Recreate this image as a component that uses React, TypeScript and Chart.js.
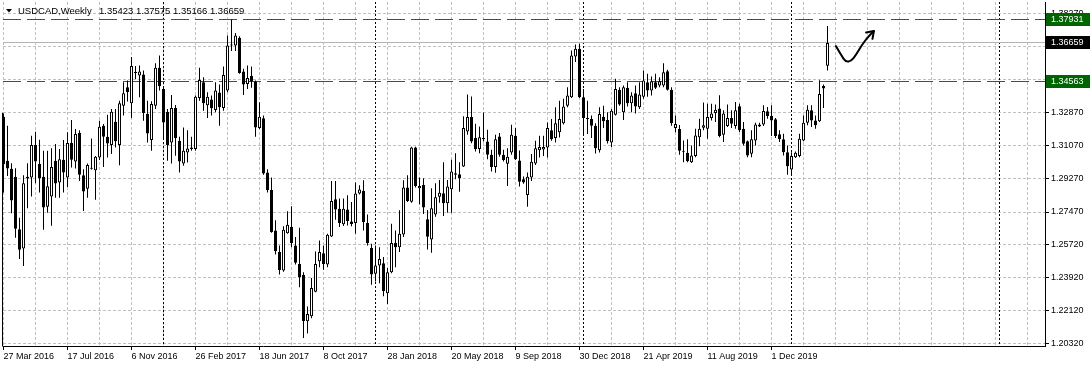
import React, { useEffect, useRef } from 'react';
import { Chart, registerables } from 'chart.js';

Chart.register(...registerables);

const SYMBOL = 'USDCAD,Weekly';
const FIRST_WEEK = '2016-03-27';
const TICK_LABELS = ['27 Mar 2016', '17 Jul 2016', '6 Nov 2016', '26 Feb 2017', '18 Jun 2017', '8 Oct 2017', '28 Jan 2018', '20 May 2018', '9 Sep 2018', '30 Dec 2018', '21 Apr 2019', '11 Aug 2019', '1 Dec 2019'];
const LABEL_EVERY = 16;
const GRID_EVERY = 8;
const PRICE_TICKS = [1.2032, 1.2212, 1.2392, 1.2572, 1.2747, 1.2927, 1.3107, 1.3287, 1.3467, 1.3647, 1.3827];
const LEVELS = [1.37931, 1.34563];

const OPEN = [
  1.3265, 1.3025, 1.2982, 1.2938, 1.2653, 1.2549, 1.2938, 1.2934, 1.3111, 1.3009,
  1.2938, 1.2776, 1.2831, 1.3025, 1.2907, 1.3031, 1.2934, 1.3122, 1.3022, 1.3178,
  1.2947, 1.2874, 1.2982, 1.2974, 1.3043, 1.3216, 1.3156, 1.3111, 1.3238, 1.3111,
  1.3325, 1.3425, 1.3338, 1.3503, 1.3489, 1.3494, 1.3280, 1.3138, 1.3325, 1.3531,
  1.3416, 1.3292, 1.3125, 1.3312, 1.3134, 1.3011, 1.3071, 1.3098, 1.3089, 1.3367,
  1.3452, 1.3327, 1.3358, 1.3302, 1.3396, 1.3312, 1.3407, 1.3652, 1.3652, 1.3694,
  1.3511, 1.3443, 1.3487, 1.3456, 1.3203, 1.3256, 1.2962, 1.2867, 1.2647, 1.2529,
  1.2429, 1.2632, 1.2665, 1.2565, 1.2465, 1.2405, 1.2153, 1.2180, 1.2314, 1.2480,
  1.2523, 1.2462, 1.2614, 1.2816, 1.2765, 1.2680, 1.2760, 1.2696, 1.2687, 1.2847,
  1.2862, 1.2687, 1.2551, 1.2411, 1.2456, 1.2469, 1.2305, 1.2420, 1.2578, 1.2556,
  1.2625, 1.2880, 1.2803, 1.3098, 1.2876, 1.2894, 1.2707, 1.2598, 1.2734, 1.2830,
  1.2849, 1.2794, 1.2871, 1.2958, 1.2952, 1.2994, 1.3185, 1.3263, 1.3149, 1.3089,
  1.3143, 1.3130, 1.3058, 1.2991, 1.3157, 1.3058, 1.3009, 1.3070, 1.3161, 1.3027,
  1.2925, 1.2840, 1.2934, 1.3011, 1.3083, 1.3087, 1.3098, 1.3192, 1.3149, 1.3180,
  1.3229, 1.3325, 1.3371, 1.3592, 1.3634, 1.3371, 1.3258, 1.3252, 1.3216, 1.3083,
  1.3265, 1.3247, 1.3125, 1.3276, 1.3411, 1.3289, 1.3422, 1.3338, 1.3392, 1.3316,
  1.3374, 1.3452, 1.3407, 1.3452, 1.3434, 1.3434, 1.3512, 1.3411, 1.3203, 1.3198,
  1.3078, 1.3069, 1.3018, 1.3051, 1.3154, 1.3205, 1.3200, 1.3258, 1.3285, 1.3309,
  1.3167, 1.3214, 1.3258, 1.3214, 1.3322, 1.3200, 1.3131, 1.3063, 1.3136, 1.3222,
  1.3222, 1.3294, 1.3269, 1.3251, 1.3169, 1.3142, 1.3072, 1.2978, 1.3045, 1.3051,
  1.3136, 1.3232, 1.3300, 1.3245, 1.3240, 1.3432, 1.35423,
];

const HIGH = [
  1.3283, 1.3216, 1.3012, 1.2985, 1.2716, 1.2947, 1.3012, 1.3162, 1.3183, 1.3140,
  1.3080, 1.3080, 1.3094, 1.3116, 1.3089, 1.3138, 1.3180, 1.3247, 1.3198, 1.3192,
  1.2980, 1.3011, 1.3147, 1.3052, 1.3243, 1.3225, 1.3276, 1.3307, 1.3307, 1.3352,
  1.3452, 1.3462, 1.3589, 1.3540, 1.3543, 1.3516, 1.3352, 1.3349, 1.3556, 1.3598,
  1.3429, 1.3307, 1.3383, 1.3329, 1.3156, 1.3207, 1.3192, 1.3156, 1.3380, 1.3531,
  1.3480, 1.3398, 1.3380, 1.3452, 1.3440, 1.3538, 1.3707, 1.3793, 1.3720, 1.3702,
  1.3525, 1.3543, 1.3538, 1.3462, 1.3343, 1.3271, 1.2980, 1.2934, 1.2702, 1.2565,
  1.2669, 1.2751, 1.2778, 1.2611, 1.2662, 1.2420, 1.2233, 1.2389, 1.2533, 1.2592,
  1.2565, 1.2629, 1.2916, 1.2916, 1.2820, 1.2820, 1.2838, 1.2802, 1.2907, 1.2892,
  1.2920, 1.2734, 1.2574, 1.2565, 1.2556, 1.2502, 1.2443, 1.2683, 1.2647, 1.2756,
  1.2920, 1.2947, 1.3102, 1.3102, 1.2934, 1.2931, 1.2758, 1.2876, 1.2903, 1.2921,
  1.3018, 1.2921, 1.3031, 1.3067, 1.3018, 1.3267, 1.3385, 1.3375, 1.3227, 1.3212,
  1.3288, 1.3194, 1.3085, 1.3167, 1.3176, 1.3085, 1.3094, 1.3221, 1.3203, 1.3081,
  1.2940, 1.2962, 1.3062, 1.3134, 1.3162, 1.3162, 1.3234, 1.3252, 1.3316, 1.3352,
  1.3362, 1.3425, 1.3625, 1.3658, 1.3662, 1.3416, 1.3352, 1.3271, 1.3229, 1.3316,
  1.3325, 1.3289, 1.3307, 1.3471, 1.3425, 1.3434, 1.3452, 1.3398, 1.3434, 1.3452,
  1.3516, 1.3498, 1.3483, 1.3498, 1.3480, 1.3556, 1.3520, 1.3425, 1.3271, 1.3220,
  1.3136, 1.3142, 1.3109, 1.3200, 1.3254, 1.3342, 1.3336, 1.3336, 1.3331, 1.3382,
  1.3300, 1.3331, 1.3300, 1.3345, 1.3336, 1.3236, 1.3136, 1.3191, 1.3232, 1.3232,
  1.3327, 1.3318, 1.3327, 1.3258, 1.3191, 1.3172, 1.3109, 1.3072, 1.3076, 1.3172,
  1.3272, 1.3327, 1.3327, 1.3272, 1.3463, 1.3440, 1.37575,
];

const LOW = [
  1.2853, 1.2943, 1.2740, 1.2607, 1.2491, 1.2454, 1.2767, 1.2831, 1.2903, 1.2853,
  1.2651, 1.2743, 1.2672, 1.2825, 1.2825, 1.2853, 1.2883, 1.2989, 1.2983, 1.2916,
  1.2753, 1.2825, 1.2978, 1.2814, 1.3030, 1.2992, 1.3043, 1.3062, 1.3098, 1.3001,
  1.3271, 1.3347, 1.3258, 1.3470, 1.3371, 1.3243, 1.3125, 1.3080, 1.3307, 1.3407,
  1.3143, 1.3025, 1.3011, 1.3053, 1.2962, 1.2998, 1.3016, 1.3080, 1.3080, 1.3352,
  1.3298, 1.3258, 1.3271, 1.3289, 1.3216, 1.3298, 1.3398, 1.3622, 1.3622, 1.3498,
  1.3383, 1.3416, 1.3422, 1.3156, 1.3198, 1.2949, 1.2853, 1.2634, 1.2516, 1.2407,
  1.2423, 1.2629, 1.2556, 1.2462, 1.2338, 1.2062, 1.2087, 1.2169, 1.2311, 1.2447,
  1.2433, 1.2447, 1.2611, 1.2705, 1.2665, 1.2671, 1.2674, 1.2669, 1.2629, 1.2842,
  1.2647, 1.2565, 1.2352, 1.2369, 1.2360, 1.2289, 1.2247, 1.2414, 1.2447, 1.2529,
  1.2611, 1.2802, 1.2798, 1.2880, 1.2789, 1.2736, 1.2543, 1.2525, 1.2721, 1.2797,
  1.2725, 1.2743, 1.2743, 1.2925, 1.2857, 1.2991, 1.3167, 1.3121, 1.3076, 1.3067,
  1.3130, 1.3034, 1.2967, 1.2961, 1.3048, 1.3021, 1.2889, 1.3058, 1.3030, 1.2885,
  1.2900, 1.2776, 1.2916, 1.3003, 1.3043, 1.3052, 1.3043, 1.3134, 1.3125, 1.3152,
  1.3222, 1.3316, 1.3367, 1.3562, 1.3367, 1.3171, 1.3171, 1.3149, 1.3065, 1.3071,
  1.3203, 1.3120, 1.3101, 1.3271, 1.3325, 1.3247, 1.3320, 1.3289, 1.3283, 1.3307,
  1.3362, 1.3374, 1.3380, 1.3416, 1.3425, 1.3425, 1.3407, 1.3216, 1.3180, 1.3058,
  1.3018, 1.3018, 1.3014, 1.3045, 1.3105, 1.3191, 1.3145, 1.3245, 1.3236, 1.3154,
  1.3127, 1.3209, 1.3203, 1.3200, 1.3182, 1.3109, 1.3045, 1.3045, 1.3109, 1.3209,
  1.3214, 1.3254, 1.3160, 1.3149, 1.3127, 1.3054, 1.2949, 1.2954, 1.3040, 1.3045,
  1.3131, 1.3218, 1.3209, 1.3200, 1.3236, 1.3312, 1.35166,
];

const CLOSE = [
  1.3007, 1.2983, 1.2809, 1.2656, 1.2542, 1.2903, 1.2929, 1.3111, 1.3022, 1.2931,
  1.2771, 1.2887, 1.2992, 1.2902, 1.3034, 1.2962, 1.3122, 1.3031, 1.3171, 1.2949,
  1.2858, 1.3003, 1.2985, 1.3047, 1.3211, 1.3156, 1.3120, 1.3292, 1.3131, 1.3338,
  1.3392, 1.3398, 1.3540, 1.3506, 1.3511, 1.3285, 1.3174, 1.3334, 1.3531, 1.3431,
  1.3234, 1.3111, 1.3312, 1.3149, 1.3022, 1.3080, 1.3092, 1.3089, 1.3374, 1.3465,
  1.3338, 1.3374, 1.3311, 1.3407, 1.3316, 1.3492, 1.3652, 1.3658, 1.3707, 1.3503,
  1.3440, 1.3476, 1.3456, 1.3207, 1.3265, 1.2956, 1.2867, 1.2638, 1.2534, 1.2432,
  1.2651, 1.2678, 1.2578, 1.2471, 1.2393, 1.2153, 1.2193, 1.2334, 1.2465, 1.2529,
  1.2465, 1.2623, 1.2807, 1.2760, 1.2687, 1.2765, 1.2698, 1.2682, 1.2847, 1.2869,
  1.2692, 1.2578, 1.2407, 1.2456, 1.2492, 1.2316, 1.2420, 1.2578, 1.2556, 1.2629,
  1.2880, 1.2807, 1.3098, 1.2889, 1.2889, 1.2771, 1.2612, 1.2767, 1.2827, 1.2852,
  1.2794, 1.2885, 1.2967, 1.2949, 1.2931, 1.3203, 1.3263, 1.3130, 1.3089, 1.3154,
  1.3149, 1.3058, 1.2991, 1.3143, 1.3058, 1.3030, 1.3048, 1.3167, 1.3034, 1.2912,
  1.2907, 1.2938, 1.3020, 1.3094, 1.3101, 1.3101, 1.3203, 1.3143, 1.3229, 1.3252,
  1.3320, 1.3380, 1.3598, 1.3634, 1.3371, 1.3258, 1.3251, 1.3216, 1.3094, 1.3280,
  1.3240, 1.3131, 1.3298, 1.3416, 1.3331, 1.3425, 1.3338, 1.3380, 1.3320, 1.3385,
  1.3462, 1.3407, 1.3458, 1.3422, 1.3458, 1.3507, 1.3411, 1.3229, 1.3225, 1.3080,
  1.3074, 1.3023, 1.3054, 1.3163, 1.3200, 1.3218, 1.3263, 1.3282, 1.3303, 1.3160,
  1.3282, 1.3258, 1.3227, 1.3300, 1.3191, 1.3118, 1.3054, 1.3142, 1.3222, 1.3212,
  1.3296, 1.3269, 1.3245, 1.3160, 1.3142, 1.3072, 1.2996, 1.3051, 1.3069, 1.3145,
  1.3232, 1.3303, 1.3245, 1.3218, 1.3389, 1.3418, 1.36659,
];

// hand-drawn arrow annotation, in (week index, price) units
const ARROW_WEEK = [208.1, 209.4, 210.6, 211.9, 213.1, 214.6, 216.1, 217.6];
const ARROW_PRICE = [1.3649, 1.3600, 1.3562, 1.3568, 1.3600, 1.3655, 1.3698, 1.3731];

const X_MIN = -0.125;
const X_MAX = 260.375;
const Y_MIN = 1.20188;
const Y_MAX = 1.38884;

const FONT = '"Liberation Sans", Arial, sans-serif';
const GRID_COLOR = '#c0c0c0';
const LEVEL_COLOR = 'rgb(0,100,0)';
const LEVEL_LINE_COLOR = 'rgb(0,128,0)';

function yearSeparators(): number[] {
  const start = Date.parse(FIRST_WEEK + 'T00:00:00Z');
  const week = 7 * 864e5;
  const out: number[] = [];
  for (let i = 1; i <= X_MAX; i++) {
    const a = new Date(start + (i - 1) * week).getUTCFullYear();
    const b = new Date(start + i * week).getUTCFullYear();
    if (a !== b) out.push(i);
  }
  return out;
}

export default function App() {
  const canvasRef = useRef<HTMLCanvasElement | null>(null);

  useEffect(() => {
    document.body.style.margin = '0';
    const canvas = canvasRef.current;
    if (!canvas) return;

    const idx = CLOSE.map((_, i) => i);
    const bodies = idx.map((i) => ({ x: i, y: [OPEN[i], CLOSE[i]] }));
    const wicks = idx.map((i) => ({ x: i, y: [LOW[i], HIGH[i]] }));
    const bodyColors = idx.map((i) => (CLOSE[i] > OPEN[i] ? '#ffffff' : '#000000'));
    const separators = yearSeparators();
    const last = CLOSE[CLOSE.length - 1];

    const overlay = {
      id: 'mt4overlay',
      beforeDatasetsDraw(chart: any) {
        const { ctx, chartArea: a, scales } = chart;
        const x = scales.x;
        const y = scales.y;
        ctx.save();
        ctx.beginPath();
        ctx.rect(a.left, a.top, a.right - a.left, a.bottom - a.top);
        ctx.clip();
        ctx.lineWidth = 1;
        // year separators
        ctx.strokeStyle = '#000';
        ctx.setLineDash([2, 2]);
        for (const s of separators) {
          const px = Math.floor(x.getPixelForValue(s)) + 0.5;
          ctx.beginPath();
          ctx.moveTo(px, a.top);
          ctx.lineTo(px, a.bottom);
          ctx.stroke();
        }
        // last price line
        ctx.setLineDash([]);
        ctx.strokeStyle = '#b4b4b4';
        const lp = Math.floor(y.getPixelForValue(last)) + 0.5;
        ctx.beginPath();
        ctx.moveTo(a.left, lp);
        ctx.lineTo(a.right, lp);
        ctx.stroke();
        // horizontal levels
        ctx.strokeStyle = LEVEL_LINE_COLOR;
        ctx.setLineDash([18, 6]);
        for (const lv of LEVELS) {
          const py = Math.floor(y.getPixelForValue(lv)) + 0.5;
          ctx.beginPath();
          ctx.moveTo(a.left, py);
          ctx.lineTo(a.right, py);
          ctx.stroke();
        }
        ctx.restore();
      },
      afterDatasetsDraw(chart: any) {
        const { ctx, scales } = chart;
        const x = scales.x;
        const y = scales.y;
        const pts = ARROW_WEEK.map((w, i) => [x.getPixelForValue(w), y.getPixelForValue(ARROW_PRICE[i])]);
        ctx.save();
        ctx.strokeStyle = '#000';
        ctx.lineWidth = 2;
        ctx.lineCap = 'round';
        ctx.lineJoin = 'round';
        ctx.beginPath();
        ctx.moveTo(pts[0][0], pts[0][1]);
        for (let i = 1; i < pts.length - 1; i++) {
          const mx = (pts[i][0] + pts[i + 1][0]) / 2;
          const my = (pts[i][1] + pts[i + 1][1]) / 2;
          ctx.quadraticCurveTo(pts[i][0], pts[i][1], mx, my);
        }
        const e = pts[pts.length - 1];
        const p = pts[pts.length - 2];
        ctx.lineTo(e[0], e[1]);
        ctx.stroke();
        const ang = Math.atan2(e[1] - p[1], e[0] - p[0]);
        const hl = 8;
        ctx.beginPath();
        ctx.moveTo(e[0] + hl * Math.cos(ang + Math.PI - 0.6), e[1] + hl * Math.sin(ang + Math.PI - 0.6));
        ctx.lineTo(e[0], e[1]);
        ctx.lineTo(e[0] + hl * Math.cos(ang + Math.PI + 0.6), e[1] + hl * Math.sin(ang + Math.PI + 0.6));
        ctx.stroke();
        ctx.restore();
      },
      afterDraw(chart: any) {
        const { ctx, chartArea: a, scales } = chart;
        const y = scales.y;
        ctx.save();
        // left frame line
        ctx.strokeStyle = '#000';
        ctx.lineWidth = 1;
        ctx.beginPath();
        ctx.moveTo(a.left - 0.5, y.getPixelForValue(1.3287));
        ctx.lineTo(a.left - 0.5, a.bottom + 0.5);
        ctx.stroke();
        // price boxes
        ctx.font = `9px ${FONT}`;
        ctx.textBaseline = 'middle';
        ctx.textAlign = 'left';
        const box = (v: number, bg: string) => {
          const py = Math.floor(y.getPixelForValue(v));
          ctx.fillStyle = bg;
          ctx.fillRect(a.right + 1, py - 6, 44, 13);
          ctx.fillStyle = '#ffffff';
          ctx.fillText(v.toFixed(5), a.right + 6, py + 0.5);
        };
        LEVELS.forEach((lv) => box(lv, LEVEL_COLOR));
        box(last, '#000000');
        // title
        ctx.fillStyle = '#000';
        ctx.beginPath();
        ctx.moveTo(6, 9);
        ctx.lineTo(12, 9);
        ctx.lineTo(9, 12.5);
        ctx.closePath();
        ctx.fill();
        ctx.font = `9.5px ${FONT}`;
        ctx.fillText(SYMBOL, 18, 11);
        const vals = [OPEN, HIGH, LOW, CLOSE].map((arr) => arr[arr.length - 1].toFixed(5)).join(' ');
        ctx.fillText(vals, 99, 11);
        ctx.restore();
      },
    };

    const chart = new Chart(canvas, {
      type: 'bar',
      data: {
        datasets: [
          {
            label: 'body',
            data: bodies as any,
            backgroundColor: bodyColors,
            borderColor: '#000000',
            borderWidth: 1,
            borderSkipped: false,
            barThickness: 3,
            minBarLength: 1,
            grouped: false,
            inflateAmount: 0,
            order: 0,
          } as any,
          {
            label: 'wick',
            data: wicks as any,
            backgroundColor: '#000000',
            borderWidth: 0,
            barThickness: 1,
            grouped: false,
            inflateAmount: 0,
            order: 1,
          } as any,
        ],
      },
      options: {
        responsive: false,
        maintainAspectRatio: false,
        animation: false,
        devicePixelRatio: 1,
        events: [],
        layout: { padding: { left: 3, top: 2, right: 0, bottom: 0 } },
        plugins: { legend: { display: false }, tooltip: { enabled: false }, title: { display: false } },
        scales: {
          x: {
            type: 'linear',
            min: X_MIN,
            max: X_MAX,
            offset: false,
            afterBuildTicks: (s: any) => {
              const t: any[] = [];
              for (let v = 0; v <= X_MAX; v += GRID_EVERY) t.push({ value: v });
              s.ticks = t;
            },
            afterFit: (s: any) => {
              s.height = 21;
              s.paddingLeft = 0;
              s.paddingRight = 0;
            },
            grid: {
              offset: false,
              color: GRID_COLOR,
              lineWidth: 1,
              drawTicks: true,
              tickLength: 4,
              tickWidth: 1,
              tickBorderDash: [],
              tickColor: (c: any) => {
                const v = c.tick ? c.tick.value : -1;
                const k = v / LABEL_EVERY;
                return Number.isInteger(k) && k < TICK_LABELS.length ? '#000000' : 'rgba(0,0,0,0)';
              },
            },
            border: { display: true, color: '#000000', width: 1, dash: [3, 2] },
            ticks: {
              autoSkip: false,
              maxRotation: 0,
              minRotation: 0,
              align: 'start',
              padding: 1,
              color: '#000000',
              font: { family: FONT, size: 9 },
              callback: (v: any) => {
                const k = Number(v) / LABEL_EVERY;
                return Number.isInteger(k) && k < TICK_LABELS.length ? TICK_LABELS[k] : '';
              },
            },
          } as any,
          y: {
            type: 'linear',
            position: 'right',
            min: Y_MIN,
            max: Y_MAX,
            beginAtZero: false,
            afterBuildTicks: (s: any) => {
              s.ticks = PRICE_TICKS.map((v) => ({ value: v }));
            },
            afterFit: (s: any) => {
              s.width = 46;
              s.paddingTop = 0;
              s.paddingBottom = 0;
            },
            grid: {
              color: GRID_COLOR,
              lineWidth: 1,
              drawTicks: true,
              tickLength: 4,
              tickWidth: 1,
              tickColor: '#000000',
              tickBorderDash: [],
            },
            border: { display: true, color: '#000000', width: 1, dash: [3, 2] },
            ticks: {
              padding: 2,
              color: '#000000',
              font: { family: FONT, size: 9 },
              callback: (v: any) => Number(v).toFixed(5),
            },
          } as any,
        },
      },
      plugins: [overlay],
    });

    return () => chart.destroy();
  }, []);

  return (
    <div style={{ position: 'fixed', left: 0, top: 0, width: 1091, height: 367, background: '#ffffff' }}>
      <canvas ref={canvasRef} width={1091} height={367} style={{ display: 'block', width: 1091, height: 367 }} />
    </div>
  );
}
